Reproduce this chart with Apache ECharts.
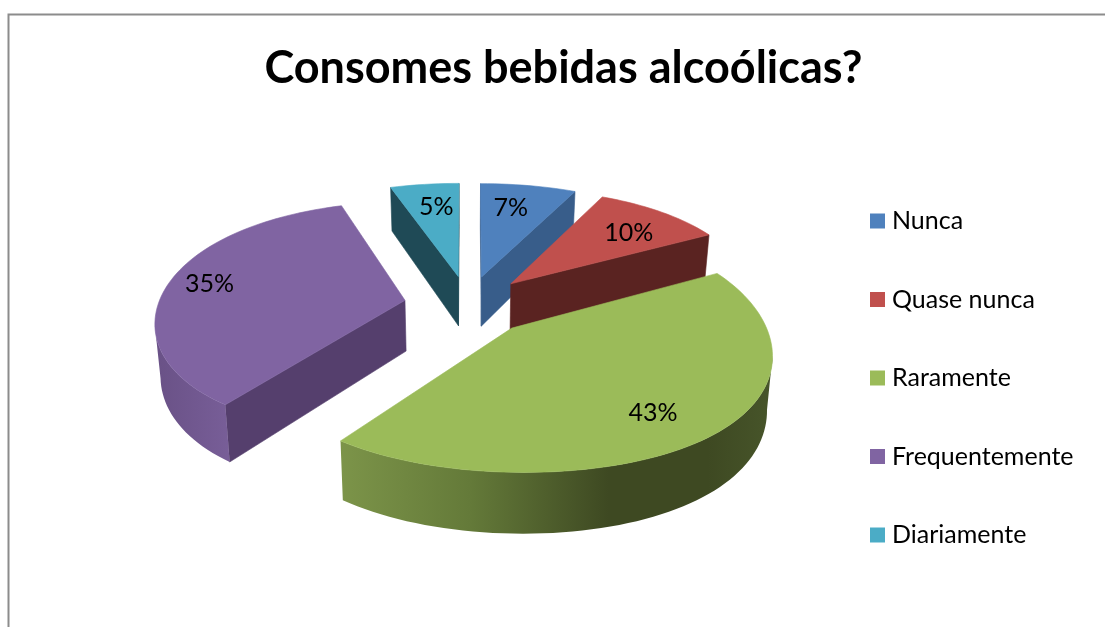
<!DOCTYPE html>
<html>
<head>
<meta charset="utf-8">
<title>Consomes bebidas alcoólicas?</title>
<style>
html,body{margin:0;padding:0;background:#fff;}
#chart{width:1105px;height:627px;}
</style>
<script src="https://cdn.jsdelivr.net/npm/echarts@6/dist/echarts.min.js"></script>
</head>
<body>
<div id="chart"></div>
<script>
// Survey answers, in percent.
var chartTitle = 'Consomes bebidas alcoólicas?';
var categories = ['Nunca', 'Quase nunca', 'Raramente', 'Frequentemente', 'Diariamente'];
var values = [7, 10, 43, 35, 5];

// Face colours per slice.
var topColors = ['#4f81bd', '#c0504d', '#9bbb59', '#8064a2', '#4bacc6'];
var cutColors = ['#385d8a', '#5a2321', '#3e4922', '#553f6d', '#1f4a56'];
var wallStops = [
  [[0, '#385d8a'], [1, '#385d8a']],
  [[0, '#5a2321'], [1, '#5a2321']],
  [[0, '#7c9449'], [0.3, '#647a39'], [0.62, '#3e4922'], [0.85, '#3e4922'], [1, '#47552a']],
  [[0, '#695186'], [1, '#785e98']],
  [[0, '#1f4a56'], [1, '#1f4a56']]
];
// Painting order, back slices first.
var paintOrder = [2, 3, 4, 5, 1];
// Label placement inside each slice: radial fraction and turn off the bisector (degrees).
var labelRadial = [0.73, 0.73, 0.78, 0.83, 0.73];
var labelTurn = [-2, 3, 5, 1, 1];

// Tilted-disc projection of the pie.
var view = {cx: 468, cy: 305, tilt: 115, yPersp: 0.15, depth: 51, explode: 0.26};
function xScale(Y) { return 1 / (0.00405 + 0.000604 * Y - 0.00018 * Y * Y); }
function project(X, Y) {
  return [view.cx + X * xScale(Y), view.cy - view.tilt * Y / (1 + view.yPersp * Y)];
}
// Lower edge of the extruded body: slightly pulled towards the vanishing axis.
function drop(p, Y) {
  return [p[0] + (view.cx - p[0]) * 0.018, p[1] + view.depth / (1 + 0.14 * Y)];
}

var total = values.reduce(function (a, b) { return a + b; }, 0);
var startAngles = [];
values.reduce(function (acc, v, i) { startAngles[i] = acc; return acc + v / total * 2 * Math.PI; }, 0);

function rimPoint(c, a) {
  var X = c[0] + Math.sin(a), Y = c[1] + Math.cos(a);
  return {X: X, Y: Y, top: project(X, Y), bottom: drop(project(X, Y), Y)};
}
// A wall under edge A-B shows when the drop direction points away from the point inside.
function facesViewer(A, B, inside) {
  var ex = B[0] - A[0], ey = B[1] - A[1];
  var sideIn = ex * (inside[1] - A[1]) - ey * (inside[0] - A[0]);
  var sideDown = ex;
  return sideIn * sideDown < 0;
}
function polygon(points, fill, z) {
  return {
    type: 'polygon',
    z2: z,
    shape: {points: points},
    style: {fill: fill, stroke: fill, lineWidth: 0.6}
  };
}

function renderSlice(i) {
  return function () {
    var a0 = startAngles[i];
    var sweep = values[i] / total * 2 * Math.PI;
    var mid = a0 + sweep / 2;
    var c = [view.explode * Math.sin(mid), view.explode * Math.cos(mid)];
    var steps = Math.max(8, Math.round(values[i] * 2));
    var rim = [];
    for (var s = 0; s <= steps; s++) rim.push(rimPoint(c, a0 + sweep * s / steps));
    var apexTop = project(c[0], c[1]);
    var apexBottom = drop(apexTop, c[1]);
    var inside = rimPoint(c, mid).top;
    var kids = [];

    // Straight cut faces at both ends of the slice.
    [rim[0], rim[steps]].forEach(function (r) {
      if (facesViewer(apexTop, r.top, inside)) {
        kids.push(polygon([apexTop, r.top, r.bottom, apexBottom], cutColors[i], 1));
      }
    });

    // Curved outer wall, only the stretch turned towards the viewer.
    var upper = [], lower = [];
    for (var k = 0; k < steps; k++) {
      if (facesViewer(rim[k].top, rim[k + 1].top, apexTop)) {
        if (!upper.length) { upper.push(rim[k].top); lower.push(rim[k].bottom); }
        upper.push(rim[k + 1].top);
        lower.push(rim[k + 1].bottom);
      }
    }
    if (upper.length) {
      var stops = wallStops[i].map(function (st) { return {offset: st[0], color: st[1]}; });
      var grad = new echarts.graphic.LinearGradient(0, 0, 1, 0, stops);
      kids.push({
        type: 'polygon',
        z2: 2,
        shape: {points: upper.concat(lower.reverse())},
        style: {fill: grad}
      });
    }

    // Top face.
    var topPts = [apexTop].concat(rim.map(function (r) { return r.top; }));
    kids.push(polygon(topPts, topColors[i], 3));

    // Percent label.
    var la = mid + labelTurn[i] * Math.PI / 180;
    var lp = project(c[0] + labelRadial[i] * Math.sin(la), c[1] + labelRadial[i] * Math.cos(la));
    kids.push({
      type: 'text',
      z2: 4,
      style: {
        x: lp[0], y: lp[1],
        text: values[i] + '%',
        align: 'center', verticalAlign: 'middle',
        font: '25px Lato', fill: '#000'
      }
    });
    return {type: 'group', children: kids};
  };
}

var series = categories.map(function (name, i) {
  return {
    type: 'custom',
    name: name,
    coordinateSystem: 'none',
    z: paintOrder[i],
    clip: false,
    itemStyle: {color: topColors[i]},
    data: [values[i]],
    renderItem: renderSlice(i)
  };
});

var chart = echarts.init(document.getElementById('chart'), null, {renderer: 'canvas'});
chart.setOption({
  animation: false,
  backgroundColor: '#fff',
  title: {
    text: chartTitle,
    left: 558.5,
    top: 41,
    textAlign: 'center',
    textStyle: {fontFamily: 'Lato', fontWeight: 700, fontSize: 45, color: '#000'}
  },
  legend: {
    orient: 'vertical',
    left: 865,
    top: 203.5,
    data: categories,
    icon: 'rect',
    itemWidth: 15,
    itemHeight: 15,
    itemGap: 53.5,
    selectedMode: false,
    textStyle: {fontFamily: 'Lato', fontSize: 25, color: '#000', lineHeight: 24, padding: [0, 0, 0, 2]}
  },
  graphic: [{
    type: 'polyline',
    silent: true,
    shape: {points: [[8.5, 627], [8.5, 14.5], [1105, 14.5]]},
    style: {stroke: '#8c8c8c', lineWidth: 2, fill: null}
  }],
  series: series
});
</script>
</body>
</html>
